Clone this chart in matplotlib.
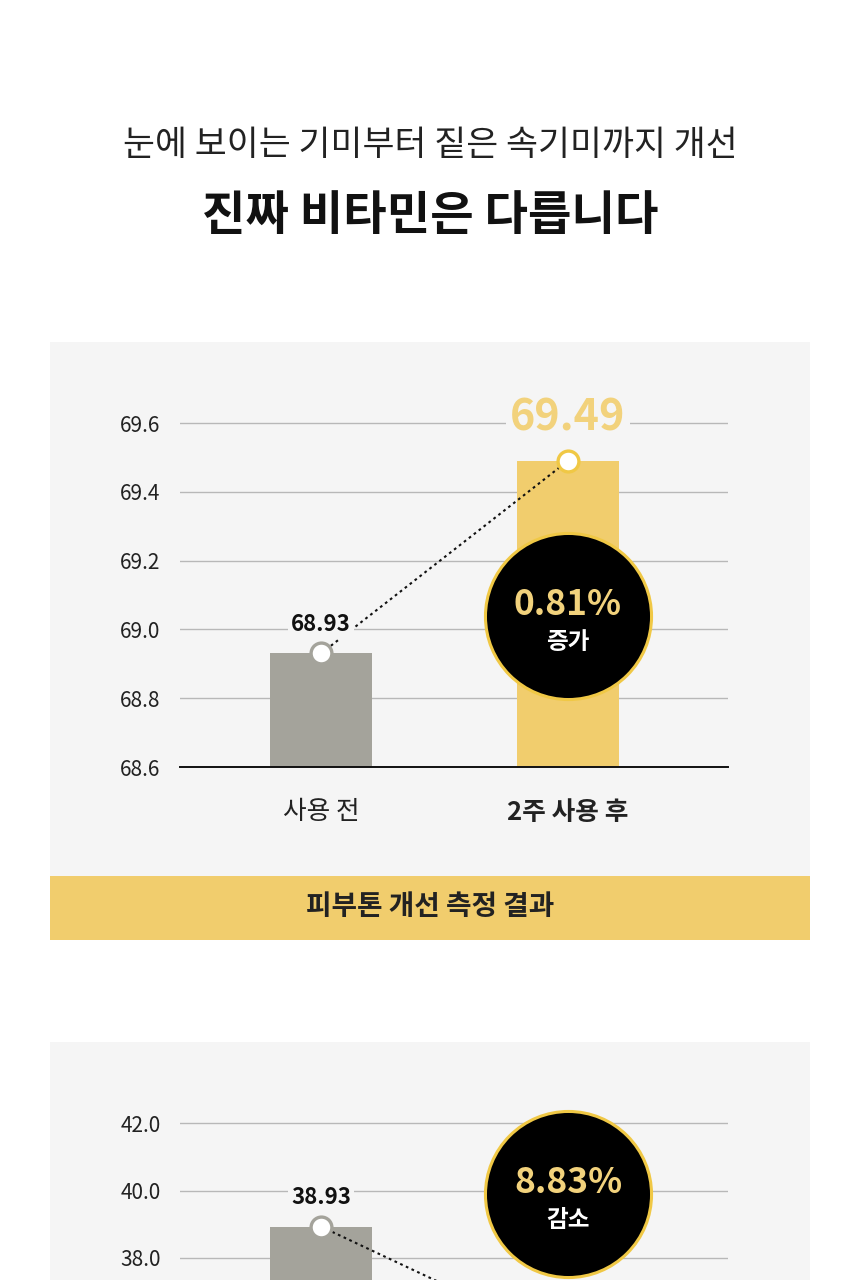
import matplotlib
matplotlib.use("Agg")
import matplotlib.pyplot as plt
from matplotlib.patches import Rectangle

plt.rcParams['font.family'] = ['Noto Sans CJK KR', 'DejaVu Sans']

# data
categories = ['사용 전', '2주 사용 후']
tone_values = [68.93, 69.49]
tone_ticks = [68.6, 68.8, 69.0, 69.2, 69.4, 69.6]
tone_change = '0.81%'
tone_word = '증가'
spot_values = [38.93, 35.49]
spot_ticks = [38.0, 40.0, 42.0]
spot_change = '8.83%'
spot_word = '감소'

title_top = '눈에 보이는 기미부터 짙은 속기미까지 개선'
title_main = '진짜 비타민은 다릅니다'
band_text = '피부톤 개선 측정 결과'

# colours
BG = '#f5f5f5'
GREY = '#a4a39b'
YELLOW = '#f1cd6d'
YELLOW_TXT = '#f2d27c'
RING = '#f0c845'

W, H = 860, 1280
fig = plt.figure(figsize=(W / 100, H / 100), dpi=100)
fig.patch.set_facecolor('white')


def fx(px):
    return px / W


def fy(py):
    return 1 - py / H


def panel_box(top, bottom):
    fig.add_artist(Rectangle((fx(50), fy(bottom)), fx(760), (bottom - top) / H,
                             transform=fig.transFigure, facecolor=BG,
                             edgecolor='none', zorder=0))


fig.text(0.5, fy(146), title_top, ha='center', va='center', fontsize=25,
         fontweight='light', color='#222222')
fig.text(0.5, fy(216), title_main, ha='center', va='center', fontsize=34,
         fontweight='bold', color='#111111')

panel_box(342, 876)
fig.add_artist(Rectangle((fx(50), fy(940)), fx(760), 64 / H, transform=fig.transFigure,
                         facecolor=YELLOW, edgecolor='none', zorder=0))
fig.text(0.5, fy(907), band_text, ha='center', va='center', fontsize=20,
         fontweight='bold', color='#222222')
panel_box(1042, 1400)


def draw_panel(ylo, yhi, px_lo, px_per_unit, values, ticks, change, word, badge_y,
               show_bottom=True):
    top_px = px_lo - (yhi - ylo) * px_per_unit
    ax = fig.add_axes([fx(180), fy(px_lo), fx(548), (px_lo - top_px) / H])
    ax.set_facecolor('none')
    ax.set_xlim(-0.571, 1.648)
    ax.set_ylim(ylo, yhi)
    for s in ax.spines.values():
        s.set_visible(False)
    ax.spines['bottom'].set_visible(True)
    ax.spines['bottom'].set_color('#111111')
    ax.spines['bottom'].set_linewidth(1.4)

    ax.set_yticks(ticks)
    ax.set_yticklabels([f'{t:.1f}' for t in ticks])
    ax.yaxis.grid(True, color='#b8b8b8', linewidth=1)
    ax.set_axisbelow(True)
    ax.tick_params(axis='y', length=0, pad=14, labelsize=15, labelcolor='#222222')
    for lab in ax.get_yticklabels():
        lab.set_fontweight('light')

    x = [0, 1]
    if show_bottom:
        ax.set_xticks(x)
        ax.set_xticklabels(categories)
        ax.tick_params(axis='x', length=0, pad=23, labelsize=18.5, labelcolor='#222222')
        ax.get_xticklabels()[1].set_fontweight('bold')
        ax.get_xticklabels()[0].set_fontweight('light')
    else:
        ax.set_xticks([])

    ax.bar(x, [v - ylo for v in values], bottom=ylo, width=0.413,
           color=[GREY, YELLOW], zorder=2)
    ax.plot(x, values, color='#111111', linewidth=1.5, linestyle=(0, (1.3, 1.7)), zorder=3)
    ax.plot(x[0], values[0], 'o', markersize=15, markerfacecolor='white',
            markeredgecolor=GREY, markeredgewidth=2.4, zorder=4)
    ax.plot(x[1], values[1], 'o', markersize=15, markerfacecolor='white',
            markeredgecolor=RING, markeredgewidth=2.4, zorder=4)

    ax.annotate(f'{values[0]:.2f}', (x[0], values[0]), xytext=(0, 21),
                textcoords='offset points', ha='center', va='center', fontsize=16,
                fontweight='bold', color='#111111', zorder=5,
                bbox=dict(boxstyle='square,pad=0.15', facecolor=BG, edgecolor='none'))
    if show_bottom:
        ax.annotate(f'{values[1]:.2f}', (x[1], values[1]), xytext=(0, 31),
                    textcoords='offset points', ha='center', va='center', fontsize=31,
                    fontweight='bold', color=YELLOW_TXT, zorder=5,
                    bbox=dict(boxstyle='square,pad=0.1', facecolor=BG, edgecolor='none'))

    ax.scatter([1], [badge_y], s=14300, color='black', edgecolors=RING,
               linewidths=2.2, zorder=6, clip_on=False)
    ax.annotate(change, (1, badge_y), xytext=(0, 8), textcoords='offset points',
                ha='center', va='center', fontsize=25.5, fontweight='bold',
                color=YELLOW_TXT, zorder=7, annotation_clip=False)
    ax.annotate(word, (1, badge_y), xytext=(0, -19), textcoords='offset points',
                ha='center', va='center', fontsize=17, fontweight='bold',
                color='white', zorder=7, annotation_clip=False)
    return ax


draw_panel(68.6, 69.7, 767, 344, tone_values, tone_ticks, tone_change, tone_word, 69.04)
draw_panel(32.0, 43.0, 1460.5, 33.75, spot_values, spot_ticks, spot_change, spot_word, 39.9,
           show_bottom=False)

fig.savefig('out.png', dpi=100, facecolor='white')
